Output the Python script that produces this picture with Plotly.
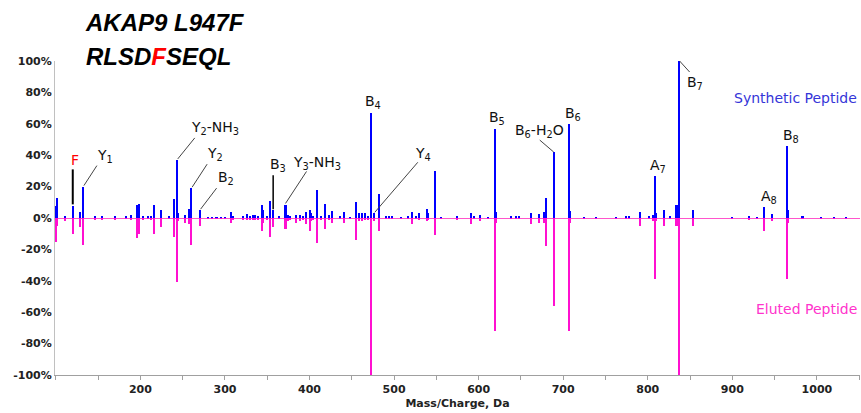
import plotly.graph_objects as go

# ---- data (m/z, synthetic intensity %, eluted intensity %) ----
mz = [100.0, 101.5, 111, 120, 128.5, 132, 146, 155, 170, 183, 188.5, 196, 198, 203.5,
      209.5, 212.7, 216.6, 224, 234, 239.5, 243, 245, 253, 257.5, 260, 270, 280, 285,
      290, 295, 300, 307.5, 310, 321, 326.5, 330, 333, 336, 339, 344, 345.5, 350,
      353.8, 357, 363.7, 371.6, 374, 377, 383.5, 388.6, 392.6, 395.3, 400, 401.5,
      404.4, 409, 413.5, 418, 423, 427, 436, 441, 448, 455, 459, 462.5, 465.7, 469.6,
      472.5, 476, 482, 490, 494, 498, 508, 516, 521, 526, 530, 539, 540.5, 548.8, 556,
      574.5, 591.5, 594, 602, 611, 619.5, 621, 637.7, 644, 648, 661.5, 671.3, 677.3,
      679.2, 688.8, 706.9, 708.5, 724.7, 738.6, 762, 774, 778, 790.7, 801, 806.6,
      808.5, 810, 819.6, 826, 834, 836.5, 853.3, 900, 919.3, 929.6, 937, 947.3, 964.7,
      966, 983, 1005, 1020, 1035]
synthetic = [7.6, 13, 1, 7.4, 4, 20, 1.5, 1, 1, 0.8, 2, 8, 9, 1,
             1, 1, 8, 5, 1, 12, 37, 3, 2, 6, 19, 5, 0.5, 0.5,
             0.5, 0.5, 0.5, 4, 1.5, 1, 2.5, 1, 2, 2, 1.5, 8, 5, 1,
             11, 5, 1, 8, 2, 1, 2, 2, 1, 4, 5, 3,
             1.5, 18, 1, 9, 2, 4.5, 1, 4, 0.5, 10, 3, 3, 3, 1,
             67, 3, 15, 1, 1, 1, 0.5, 1, 4, 1, 3, 6, 3, 30, 0.5,
             1.5, 3, 1, 2, 0.5, 57, 4, 1, 1, 1, 3.5, 2.5, 4,
             13, 42, 60, 4.5, 0.5, 0.5, 0.5, 1, 1, 4, 1, 2,
             27, 3, 5, 1, 8, 100, 5, 0.5, 1, 0.5, 7, 2.5, 46,
             5, 1, 0.4, 0.4, 0.4]
eluted = [15, 5, 2, 10.4, 6, 17, 1, 1.5, 1, 0.5, 1, 13, 10, 1,
          0.5, 1, 10, 6, 0.5, 12, 41, 2, 3, 4, 17, 5, 0.3, 0.3,
          0.3, 0.3, 0.3, 3, 1, 1, 1.5, 1, 1.5, 1, 1, 8, 3, 1,
          12, 6, 0.5, 7, 2, 1, 3, 2, 1, 4, 8, 2,
          1, 16, 1, 7, 1, 3, 0.5, 3, 0.5, 14, 2, 2, 1, 1,
          100, 2, 8, 0.5, 0.5, 0.5, 0.3, 0.5, 4, 0.5, 1, 2, 1, 11, 0.3,
          1, 4, 0.5, 2, 0.3, 72, 3, 0.5, 0.5, 0.5, 4, 3, 3,
          17.6, 56, 72, 3, 0.3, 0.3, 0.3, 0.5, 0.5, 5, 0.5, 2,
          39, 2, 5, 0.5, 5, 100, 5, 0.3, 1, 0.3, 8, 2, 39,
          3, 0.5, 0.3, 0.3, 0.3]

# ---- fragment labels: text, m/z, text offset (px), leader line (px, relative to peak tip) ----
label_text = ["F", "Y<sub>1</sub>", "Y<sub>2</sub>-NH<sub>3</sub>", "Y<sub>2</sub>", "B<sub>2</sub>",
              "B<sub>3</sub>", "Y<sub>3</sub>-NH<sub>3</sub>", "B<sub>4</sub>", "Y<sub>4</sub>",
              "B<sub>5</sub>", "B<sub>6</sub>-H<sub>2</sub>O", "B<sub>6</sub>", "A<sub>7</sub>",
              "B<sub>7</sub>", "A<sub>8</sub>", "B<sub>8</sub>"]
label_mz = [120, 132, 243, 260, 270, 357, 371.6, 472.5, 476, 619.5, 688.8, 706.9, 808.5,
            836.5, 937, 964.7]
label_color = ["#ff0000"] + ["#111111"] * 15
label_dx = [2, 22, 38, 24, 26, 5, 31, 2, 49, 2, -14, 4, 3, 16, 5, 4]
label_dy = [46, 31, 32, 34, 32, 45, 42, 11, 59, 11, 21, 10, 10, -22, 10, 10]
leader = [(0, 2, 0, 37, "#000000", 2), (1, 1, 14, 21, "#444444", 1), (1, 1, 18, 22, "#444444", 1),
          (1, 1, 16, 24, "#444444", 1), (1, 1, 17, 22, "#444444", 1), (0, 1, 0, 35, "#000000", 1.5),
          (0, 2, 21, 34, "#444444", 1), None, (1, 1, 44, 51, "#444444", 1), None,
          (0, 0, -14, 12, "#444444", 1), None, None, (1, 0, 11, -11, "#444444", 1), None, None]

x_ticks = [200, 300, 400, 500, 600, 700, 800, 900, 1000]
y_ticks = [-100, -80, -60, -40, -20, 0, 20, 40, 60, 80, 100]
y_ticktext = [f"{v}%" for v in y_ticks]

BLUE = "#0000ff"
MAGENTA = "#ff10d0"

fig = go.Figure()
fig.add_trace(go.Bar(x=mz, y=synthetic, width=2.4, marker=dict(color=BLUE, line=dict(width=0)),
                     name="Synthetic Peptide", showlegend=False))
fig.add_trace(go.Bar(x=mz, y=[-v for v in eluted], width=2.4,
                     marker=dict(color=MAGENTA, line=dict(width=0)),
                     name="Eluted Peptide", showlegend=False))

annotations = []
shapes = []
lookup = dict(zip(mz, synthetic))
for txt, m, col, dx, dy, ld in zip(label_text, label_mz, label_color, label_dx, label_dy, leader):
    h = lookup[m]
    annotations.append(dict(x=m, y=h, xref="x", yref="y", text=txt, showarrow=False,
                            xshift=dx, yshift=dy, font=dict(family="DejaVu Sans", size=14, color=col)))
    if ld is not None:
        x0, y0, x1, y1, c, w = ld
        shapes.append(dict(type="line", xref="x", yref="y", xsizemode="pixel", ysizemode="pixel",
                           xanchor=m, yanchor=h, x0=x0, y0=y0, x1=x1, y1=y1,
                           line=dict(color=c, width=w)))

TITLE_FONT = "Liberation Sans, Arial"
annotations += [
    dict(x=0.035, y=1.0, xref="paper", yref="paper", xanchor="left", yanchor="middle", yshift=39,
         text="<b><i>AKAP9 L947F</i></b>", showarrow=False,
         font=dict(family=TITLE_FONT, size=24, color="#000")),
    dict(x=0.036, y=1.0, xref="paper", yref="paper", xanchor="left", yanchor="middle", yshift=5,
         text="<b><i>RLSD<span style='color:#ff0000'>F</span>SEQL</i></b>", showarrow=False,
         font=dict(family=TITLE_FONT, size=24, color="#000")),
    dict(x=1.0, y=0.882, xref="paper", yref="paper", xanchor="right", yanchor="middle", xshift=-1,
         text="Synthetic Peptide", showarrow=False,
         font=dict(family="DejaVu Sans", size=14, color="#3535d8")),
    dict(x=1.0, y=0.21, xref="paper", yref="paper", xanchor="right", yanchor="middle", xshift=-1,
         text="Eluted Peptide", showarrow=False,
         font=dict(family="DejaVu Sans", size=14, color="#ff33cc")),
]

fig.update_layout(
    width=861, height=413,
    margin=dict(l=55, r=1, t=61, b=38),
    paper_bgcolor="white", plot_bgcolor="white",
    barmode="overlay", bargap=0,
    annotations=annotations, shapes=shapes,
    xaxis=dict(range=[99, 1051], tickvals=x_ticks, showgrid=False, zeroline=False,
               showline=True, linecolor="#a0a0a0", linewidth=1,
               ticks="outside", ticklen=4, tickcolor="#a0a0a0",
               minor=dict(dtick=50, tick0=0, ticks="outside", ticklen=4, tickcolor="#a0a0a0"),
               tickfont=dict(family="DejaVu Sans", size=11, color="#222", weight="bold"),
               title=dict(text="<b>Mass/Charge, Da</b>", standoff=4,
                          font=dict(family="DejaVu Sans", size=11, color="#222"))),
    yaxis=dict(range=[-100, 100], tickmode="array", tickvals=y_ticks, ticktext=y_ticktext,
               showgrid=False,
               zeroline=True, zerolinecolor="#ff55cc", zerolinewidth=1,
               showline=True, linecolor="#c0c0c0", linewidth=1, ticks="",
               tickfont=dict(family="DejaVu Sans", size=11, color="#222", weight="bold")),
)

fig.write_html("out.html", config={"displayModeBar": False},
               post_script="document.body.style.margin='0';")
